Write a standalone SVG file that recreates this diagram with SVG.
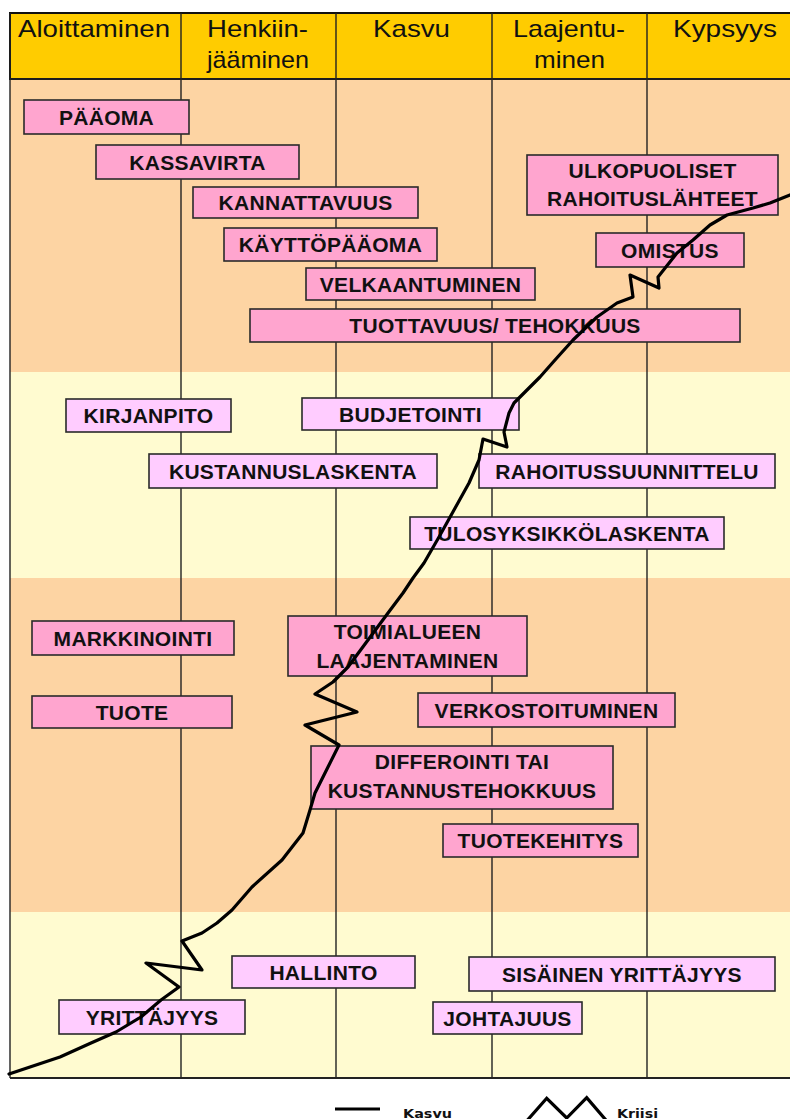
<svg xmlns="http://www.w3.org/2000/svg" width="790" height="1119" viewBox="0 0 790 1119">
<defs>
<style>
.band-o{fill:#FDD4A3}
.band-y{fill:#FFFBD0}
.hdr{fill:#FFCC00;stroke:#111;stroke-width:2}
.htxt{font-family:"Liberation Sans",Arial,sans-serif;font-size:24px;fill:#111}
.grid line{stroke:#222;stroke-width:1.4}
.bp{fill:#FFA5CF;stroke:#2a2a2a;stroke-width:1.6}
.bl{fill:#FFCCFF;stroke:#2a2a2a;stroke-width:1.6}
.t{font-family:"Liberation Sans",Arial,sans-serif;font-size:21px;font-weight:bold;fill:#111;text-anchor:middle;letter-spacing:0.3px}
.curve{fill:none;stroke:#000;stroke-width:3.2;stroke-linejoin:round;stroke-linecap:round}
.leg{font-family:"DejaVu Sans",Verdana,sans-serif;font-size:13px;font-weight:bold;fill:#111}
</style>
</defs>
<rect x="0" y="0" width="790" height="1119" fill="#fff"/>
<!-- bands -->
<rect class="band-o" x="10" y="79" width="780" height="293"/>
<rect class="band-y" x="10" y="372" width="780" height="206"/>
<rect class="band-o" x="10" y="578" width="780" height="334"/>
<rect class="band-y" x="10" y="912" width="780" height="166"/>
<!-- header -->
<g id="header">
<rect class="hdr" x="10" y="13" width="782" height="66"/>
<text class="htxt" x="18" y="37" textLength="152" lengthAdjust="spacingAndGlyphs">Aloittaminen</text>
<text class="htxt" x="207" y="37" textLength="101" lengthAdjust="spacingAndGlyphs">Henkiin-</text>
<text class="htxt" x="207" y="68" textLength="102" lengthAdjust="spacingAndGlyphs">jääminen</text>
<text class="htxt" x="373" y="37" textLength="77" lengthAdjust="spacingAndGlyphs">Kasvu</text>
<text class="htxt" x="513" y="37" textLength="112" lengthAdjust="spacingAndGlyphs">Laajentu-</text>
<text class="htxt" x="534" y="68" textLength="71" lengthAdjust="spacingAndGlyphs">minen</text>
<text class="htxt" x="673" y="37" textLength="104" lengthAdjust="spacingAndGlyphs">Kypsyys</text>
</g>
<!-- grid -->
<g class="grid" id="grid">
<line x1="10" y1="13" x2="10" y2="1078"/>
<line x1="181" y1="13" x2="181" y2="1078"/>
<line x1="336" y1="13" x2="336" y2="1078"/>
<line x1="492" y1="13" x2="492" y2="1078"/>
<line x1="647" y1="13" x2="647" y2="1078"/>
<line x1="10" y1="79" x2="790" y2="79"/>
<line x1="10" y1="1078" x2="790" y2="1078" style="stroke-width:2"/>
</g>
<!-- nodes -->
<g id="paaoma"><rect class="bp" x="24" y="100" width="165" height="34"/><text class="t" x="106.5" y="124.5">PÄÄOMA</text></g>
<g id="kassavirta"><rect class="bp" x="96" y="145" width="203" height="34"/><text class="t" x="197.5" y="169.5">KASSAVIRTA</text></g>
<g id="kannattavuus"><rect class="bp" x="193" y="187" width="225" height="31"/><text class="t" x="305.5" y="210">KANNATTAVUUS</text></g>
<g id="kayttopaaoma"><rect class="bp" x="224" y="228" width="213" height="33"/><text class="t" x="330.5" y="252">KÄYTTÖPÄÄOMA</text></g>
<g id="velkaantuminen"><rect class="bp" x="306" y="268" width="229" height="32"/><text class="t" x="420.5" y="291.5">VELKAANTUMINEN</text></g>
<g id="tuottavuus"><rect class="bp" x="250" y="309" width="490" height="33"/><text class="t" x="495" y="333">TUOTTAVUUS/ TEHOKKUUS</text></g>
<g id="ulkopuoliset"><rect class="bp" x="527" y="155" width="251" height="60"/><text class="t" x="652.5" y="178">ULKOPUOLISET</text><text class="t" x="652.5" y="206">RAHOITUSLÄHTEET</text></g>
<g id="omistus"><rect class="bp" x="596" y="233" width="148" height="34"/><text class="t" x="670" y="257.5">OMISTUS</text></g>

<g id="kirjanpito"><rect class="bl" x="66" y="399" width="165" height="33"/><text class="t" x="148.5" y="423">KIRJANPITO</text></g>
<g id="budjetointi"><rect class="bl" x="302" y="398" width="217" height="32"/><text class="t" x="410.5" y="421.5">BUDJETOINTI</text></g>
<g id="kustannuslaskenta"><rect class="bl" x="149" y="454" width="288" height="34"/><text class="t" x="293" y="478.5">KUSTANNUSLASKENTA</text></g>
<g id="rahoitussuunnittelu"><rect class="bl" x="479" y="454" width="296" height="34"/><text class="t" x="627" y="478.5">RAHOITUSSUUNNITTELU</text></g>
<g id="tulosyksikkolaskenta"><rect class="bl" x="410" y="517" width="314" height="32"/><text class="t" x="567" y="540.5">TULOSYKSIKKÖLASKENTA</text></g>

<g id="markkinointi"><rect class="bp" x="32" y="621" width="202" height="34"/><text class="t" x="133" y="645.5">MARKKINOINTI</text></g>
<g id="toimialueen"><rect class="bp" x="288" y="616" width="239" height="60"/><text class="t" x="407.5" y="639">TOIMIALUEEN</text><text class="t" x="407.5" y="668">LAAJENTAMINEN</text></g>
<g id="tuote"><rect class="bp" x="32" y="696" width="200" height="32"/><text class="t" x="132" y="719.5">TUOTE</text></g>
<g id="verkostoituminen"><rect class="bp" x="418" y="693" width="257" height="34"/><text class="t" x="546.5" y="717.5">VERKOSTOITUMINEN</text></g>
<g id="differointi"><rect class="bp" x="311" y="746" width="302" height="63"/><text class="t" x="462" y="769">DIFFEROINTI TAI</text><text class="t" x="462" y="798">KUSTANNUSTEHOKKUUS</text></g>
<g id="tuotekehitys"><rect class="bp" x="443" y="824" width="195" height="33"/><text class="t" x="540.5" y="848">TUOTEKEHITYS</text></g>

<g id="hallinto"><rect class="bl" x="232" y="956" width="183" height="32"/><text class="t" x="323.5" y="979.5">HALLINTO</text></g>
<g id="sisainen"><rect class="bl" x="469" y="957" width="306" height="34"/><text class="t" x="622" y="981.5">SISÄINEN YRITTÄJYYS</text></g>
<g id="yrittajyys"><rect class="bl" x="59" y="1000" width="186" height="34"/><text class="t" x="152" y="1024.5">YRITTÄJYYS</text></g>
<g id="johtajuus"><rect class="bl" x="433" y="1002" width="149" height="32"/><text class="t" x="507.5" y="1025.5">JOHTAJUUS</text></g>

<!-- connectors: growth curve with crises -->
<g id="connectors">
<polyline class="curve" points="9,1074 30,1067 60,1057 91,1043 116,1032 141,1017 161,1000 179,987 146,963 202,970 182,941 202,933 217,923 232,910 252,887 282,860 303,833 310,810 315,793 328,767 339,745 305,725 357,712 315,694 333,682 348,667 368,640 388,613 403,593 413,578 424,563 439,537 454,510 469,483 479,460 483,439 507,447 504,432 509,413 514,403 527,390 540,377 555,360 573,340 597,317 617,303 633,297 630,275 659,288 658,277 677,253 693,240 710,225 727,215 753,208 770,203 790,195"/>
</g>
<!-- legend -->
<g id="legend">
<line x1="335" y1="1109" x2="380" y2="1109" stroke="#000" stroke-width="3"/>
<text class="leg" x="403" y="1118" textLength="49" lengthAdjust="spacingAndGlyphs">Kasvu</text>
<polyline class="curve" points="526.7,1121 546.7,1098.3 566.7,1118 586.7,1097.7 606.7,1121" style="stroke-linecap:butt;stroke-linejoin:miter"/>
<text class="leg" x="617" y="1118" textLength="41" lengthAdjust="spacingAndGlyphs">Kriisi</text>
</g>
</svg>
